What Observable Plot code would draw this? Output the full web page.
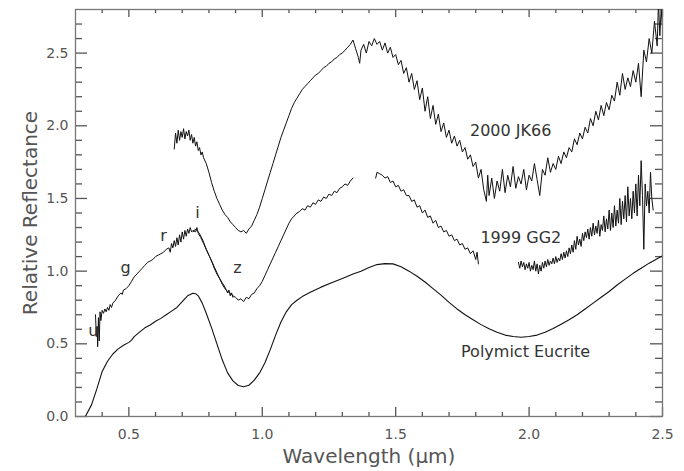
<!DOCTYPE html>
<html>
<head>
<meta charset="utf-8">
<script src="https://cdn.jsdelivr.net/npm/d3@7"></script>
<script src="https://cdn.jsdelivr.net/npm/@observablehq/plot@0.6"></script>
<style>
  html, body { margin: 0; padding: 0; background: #fff; }
</style>
</head>
<body>
<div id="chart"></div>
<script>
// ---- Data ----
const xMajorTicks = [0.5, 1.0, 1.5, 2.0, 2.5];
const xMinorTicks = [0.4, 0.6, 0.7, 0.8, 0.9, 1.1, 1.2, 1.3, 1.4, 1.6, 1.7, 1.8, 1.9, 2.1, 2.2, 2.3, 2.4];
const yMajorTicks = [0.0, 0.5, 1.0, 1.5, 2.0, 2.5];
const yMinorTicks = [0.1, 0.2, 0.3, 0.4, 0.6, 0.7, 0.8, 0.9, 1.1, 1.2, 1.3, 1.4, 1.6, 1.7, 1.8, 1.9, 2.1, 2.2, 2.3, 2.4, 2.6, 2.7];

// Polymict Eucrite (smooth laboratory spectrum)
const eucrite = [
  [0.337,0.00],[0.36,0.08],[0.38,0.19],[0.40,0.31],[0.42,0.38],[0.44,0.43],[0.46,0.465],[0.48,0.49],
  [0.50,0.51],[0.51,0.525],[0.52,0.55],[0.54,0.58],[0.56,0.61],[0.58,0.63],[0.60,0.655],[0.62,0.675],
  [0.64,0.70],[0.66,0.725],[0.68,0.75],[0.70,0.79],[0.72,0.83],[0.74,0.848],[0.75,0.845],[0.76,0.83],
  [0.775,0.78],[0.79,0.71],[0.81,0.61],[0.83,0.50],[0.85,0.39],[0.87,0.30],[0.89,0.245],[0.91,0.213],
  [0.93,0.205],[0.95,0.215],[0.97,0.25],[0.99,0.30],[1.01,0.37],[1.03,0.46],[1.05,0.56],[1.07,0.65],
  [1.09,0.72],[1.11,0.77],[1.13,0.80],[1.15,0.825],[1.18,0.855],[1.22,0.89],[1.26,0.92],[1.30,0.95],
  [1.34,0.98],[1.37,1.00],[1.40,1.025],[1.43,1.045],[1.46,1.052],[1.49,1.05],[1.52,1.03],[1.55,1.00],
  [1.58,0.965],[1.61,0.925],[1.64,0.88],[1.67,0.835],[1.70,0.785],[1.73,0.74],[1.76,0.70],[1.79,0.665],
  [1.82,0.632],[1.85,0.603],[1.88,0.58],[1.91,0.56],[1.94,0.55],[1.97,0.545],[2.00,0.55],[2.03,0.56],
  [2.06,0.58],[2.09,0.605],[2.12,0.635],[2.15,0.665],[2.18,0.70],[2.21,0.74],[2.24,0.78],[2.27,0.82],
  [2.30,0.86],[2.33,0.905],[2.36,0.945],[2.39,0.985],[2.42,1.02],[2.45,1.055],[2.48,1.085],[2.50,1.105]
];

// 2000 JK66 (noisy spectrum)
const jk66 = [
  [0.670,1.84],[0.675,1.95],[0.680,1.88],[0.685,1.97],[0.690,1.90],[0.695,1.96],[0.700,1.92],[0.705,1.98],
  [0.710,1.91],[0.715,1.96],[0.720,1.93],[0.725,1.97],[0.730,1.90],[0.735,1.94],[0.740,1.88],[0.745,1.92],
  [0.750,1.86],[0.755,1.89],[0.760,1.83],[0.765,1.85],[0.770,1.80],[0.775,1.82],[0.780,1.78],[0.790,1.74],
  [0.800,1.68],[0.810,1.61],[0.820,1.55],[0.830,1.50],[0.840,1.46],[0.850,1.42],[0.860,1.39],[0.870,1.37],
  [0.880,1.34],[0.890,1.32],[0.900,1.30],[0.910,1.28],[0.920,1.27],[0.930,1.28],[0.940,1.26],[0.950,1.29],
  [0.960,1.31],[0.970,1.35],[0.980,1.39],[0.990,1.44],[1.000,1.50],[1.010,1.56],[1.020,1.62],[1.030,1.68],
  [1.040,1.74],[1.050,1.80],[1.060,1.86],[1.070,1.92],[1.080,1.97],[1.090,2.02],[1.100,2.07],[1.110,2.12],
  [1.120,2.16],[1.130,2.19],[1.140,2.22],[1.150,2.25],[1.160,2.27],[1.170,2.29],[1.180,2.31],[1.190,2.33],
  [1.200,2.35],[1.210,2.36],[1.220,2.38],[1.230,2.40],[1.240,2.41],[1.250,2.43],[1.260,2.44],[1.270,2.46],
  [1.280,2.47],[1.290,2.49],[1.300,2.50],[1.310,2.52],[1.320,2.54],[1.330,2.56],[1.340,2.59],[1.350,2.53],
  [1.360,2.47],[1.365,2.43],[1.370,2.52],[1.380,2.56],[1.390,2.50],[1.400,2.58],[1.410,2.55],[1.420,2.60],
  [1.430,2.56],[1.440,2.58],[1.450,2.52],[1.460,2.57],[1.470,2.50],[1.480,2.54],[1.490,2.47],[1.500,2.49],
  [1.510,2.42],[1.520,2.45],[1.530,2.36],[1.540,2.40],[1.550,2.30],[1.560,2.36],[1.570,2.25],[1.580,2.31],
  [1.590,2.18],[1.600,2.26],[1.610,2.10],[1.620,2.20],[1.630,2.05],[1.640,2.14],[1.650,2.01],[1.660,2.08],
  [1.670,1.96],[1.680,2.02],[1.690,1.92],[1.700,1.97],[1.710,1.88],[1.720,1.93],[1.730,1.86],[1.740,1.90],
  [1.750,1.82],[1.760,1.85],[1.770,1.77],[1.780,1.80],[1.790,1.72],[1.800,1.75],[1.810,1.64],[1.820,1.70],
  [1.830,1.56],[1.840,1.48],[1.845,1.66],[1.850,1.52],[1.860,1.64],[1.870,1.50],[1.880,1.62],[1.890,1.55],
  [1.900,1.70],[1.910,1.54],[1.920,1.66],[1.930,1.58],[1.940,1.72],[1.950,1.57],[1.960,1.65],[1.970,1.60],
  [1.980,1.70],[1.990,1.56],[2.000,1.66],[2.010,1.62],[2.020,1.74],[2.030,1.63],[2.040,1.52],[2.050,1.70],
  [2.060,1.66],[2.070,1.78],[2.080,1.68],[2.090,1.74],[2.100,1.70],[2.110,1.79],[2.120,1.74],[2.130,1.82],
  [2.140,1.78],[2.150,1.85],[2.160,1.82],[2.170,1.91],[2.180,1.87],[2.190,1.95],[2.200,1.91],[2.210,1.99],
  [2.220,1.95],[2.230,2.05],[2.240,2.00],[2.250,2.10],[2.260,2.04],[2.270,2.14],[2.280,2.07],[2.290,2.16],
  [2.300,2.11],[2.310,2.21],[2.320,2.17],[2.330,2.30],[2.340,2.21],[2.350,2.36],[2.360,2.25],[2.370,2.33],
  [2.380,2.27],[2.390,2.38],[2.400,2.30],[2.410,2.43],[2.420,2.20],[2.430,2.52],[2.440,2.44],[2.450,2.60],
  [2.460,2.50],[2.470,2.72],[2.480,2.55],[2.485,2.85],[2.490,2.62],[2.495,2.80],[2.500,2.68]
];

// 1999 GG2, visible spectrum (u g r i z region)
const gg2Visible = [
  [0.375,0.70],[0.378,0.55],[0.381,0.62],[0.383,0.48],[0.386,0.68],[0.389,0.52],[0.392,0.72],[0.395,0.66],
  [0.400,0.73],[0.405,0.71],[0.410,0.74],[0.415,0.72],[0.420,0.75],[0.425,0.73],[0.430,0.77],[0.435,0.75],
  [0.440,0.78],[0.450,0.80],[0.460,0.83],[0.470,0.85],[0.475,0.84],[0.480,0.87],[0.490,0.88],[0.500,0.90],
  [0.510,0.93],[0.520,0.96],[0.530,0.98],[0.540,1.00],[0.550,1.02],[0.560,1.04],[0.570,1.06],[0.580,1.07],
  [0.590,1.08],[0.600,1.10],[0.610,1.11],[0.620,1.12],[0.630,1.13],[0.640,1.15],[0.650,1.16],[0.655,1.13],
  [0.660,1.19],[0.665,1.16],[0.670,1.21],[0.675,1.17],[0.680,1.23],[0.685,1.18],[0.690,1.25],[0.695,1.20],
  [0.700,1.27],[0.705,1.22],[0.710,1.28],[0.715,1.24],[0.720,1.29],[0.725,1.26],[0.730,1.30],[0.735,1.27],
  [0.740,1.28],[0.750,1.27],[0.755,1.30],[0.760,1.26],[0.770,1.23],[0.780,1.19],[0.790,1.15],[0.800,1.11],
  [0.810,1.07],[0.820,1.03],[0.830,0.99],[0.840,0.95],[0.850,0.92],[0.860,0.89],[0.870,0.85],[0.875,0.87],
  [0.880,0.83],[0.885,0.85],[0.890,0.82]
];

// 1999 GG2, near-infrared pieces
const gg2Nir1 = [
  [0.740,1.27],[0.750,1.29],[0.760,1.27],[0.770,1.24],[0.780,1.20],[0.790,1.15],[0.800,1.11],[0.810,1.07],
  [0.820,1.02],[0.830,0.98],[0.840,0.95],[0.850,0.91],[0.860,0.88],[0.870,0.86],[0.880,0.85],[0.890,0.83],
  [0.900,0.82],[0.910,0.80],[0.920,0.81],[0.930,0.79],[0.940,0.82],[0.950,0.81],[0.960,0.84],[0.970,0.85],
  [0.980,0.88],[0.990,0.90],[1.000,0.93],[1.010,0.97],[1.020,1.01],[1.030,1.05],[1.040,1.09],[1.050,1.13],
  [1.060,1.17],[1.070,1.21],[1.080,1.25],[1.090,1.29],[1.100,1.33],[1.110,1.36],[1.120,1.38],[1.130,1.40],
  [1.140,1.41],[1.150,1.43],[1.160,1.42],[1.170,1.45],[1.180,1.44],[1.190,1.47],[1.200,1.46],[1.210,1.49],
  [1.220,1.48],[1.230,1.51],[1.240,1.50],[1.250,1.53],[1.260,1.52],[1.270,1.55],[1.280,1.54],[1.290,1.57],
  [1.300,1.58],[1.310,1.60],[1.320,1.59],[1.330,1.62],[1.340,1.64]
];
const gg2Nir2 = [
  [1.425,1.64],[1.430,1.68],[1.440,1.67],[1.450,1.66],[1.460,1.64],[1.470,1.65],[1.480,1.61],[1.490,1.62],
  [1.500,1.58],[1.510,1.59],[1.520,1.55],[1.530,1.56],[1.540,1.52],[1.550,1.52],[1.560,1.48],[1.570,1.49],
  [1.580,1.44],[1.590,1.45],[1.600,1.40],[1.610,1.42],[1.620,1.37],[1.630,1.38],[1.640,1.33],[1.650,1.35],
  [1.660,1.30],[1.670,1.31],[1.680,1.27],[1.690,1.28],[1.700,1.24],[1.710,1.25],[1.720,1.21],[1.730,1.22],
  [1.740,1.18],[1.750,1.19],[1.760,1.15],[1.770,1.16],[1.780,1.12],[1.790,1.14],[1.800,1.08],[1.805,1.13],
  [1.810,1.05]
];
const gg2Nir3 = [
  [1.960,1.06],[1.965,1.02],[1.970,1.07],[1.975,1.03],[1.980,1.06],[1.985,1.01],[1.990,1.05],[1.995,1.02],
  [2.000,1.06],[2.005,1.00],[2.010,1.04],[2.015,1.01],[2.020,1.07],[2.025,1.00],[2.030,1.05],[2.035,0.98],
  [2.040,1.04],[2.045,1.00],[2.050,1.06],[2.055,1.02],[2.060,1.07],[2.065,1.03],[2.070,1.08],[2.075,1.04],
  [2.080,1.07],[2.085,1.05],[2.090,1.09],[2.095,1.05],[2.100,1.10],[2.105,1.06],[2.110,1.09],[2.115,1.07],
  [2.120,1.12],[2.125,1.08],[2.130,1.13],[2.135,1.09],[2.140,1.14],[2.145,1.10],[2.150,1.16],[2.155,1.12],
  [2.160,1.18],[2.165,1.13],[2.170,1.21],[2.175,1.15],[2.180,1.24],[2.185,1.18],[2.190,1.22],[2.195,1.17],
  [2.200,1.26],[2.205,1.21],[2.210,1.27],[2.215,1.23],[2.220,1.29],[2.225,1.22],[2.230,1.30],[2.235,1.24],
  [2.240,1.33],[2.245,1.25],[2.250,1.31],[2.255,1.26],[2.260,1.35],[2.265,1.24],[2.270,1.32],[2.275,1.28],
  [2.280,1.38],[2.285,1.27],[2.290,1.36],[2.295,1.29],[2.300,1.42],[2.305,1.28],[2.310,1.40],[2.315,1.30],
  [2.320,1.45],[2.325,1.31],[2.330,1.42],[2.335,1.33],[2.340,1.50],[2.345,1.32],[2.350,1.48],[2.355,1.36],
  [2.360,1.52],[2.365,1.34],[2.370,1.58],[2.375,1.38],[2.380,1.50],[2.385,1.36],[2.390,1.55],[2.395,1.40],
  [2.400,1.60],[2.405,1.38],[2.410,1.66],[2.415,1.45],[2.420,1.76],[2.425,1.52],[2.430,1.15],[2.435,1.60],
  [2.440,1.45],[2.445,1.55],[2.450,1.40],[2.455,1.68],[2.460,1.50],[2.465,1.42]
];

// Text annotations
const curveLabels = [
  {text: "2000 JK66", x: 1.931, y: 1.963},
  {text: "1999 GG2", x: 1.969, y: 1.232},
  {text: "Polymict Eucrite", x: 1.987, y: 0.446}
];
const filterLabels = [
  {text: "u", x: 0.367, y: 0.59},
  {text: "g", x: 0.4875, y: 1.02},
  {text: "r", x: 0.63, y: 1.24},
  {text: "i", x: 0.757, y: 1.40},
  {text: "z", x: 0.907, y: 1.02}
];

// ---- Chart ----
const W = 684, H = 471;
const mL = 75, mR = 22, mT = 9, mB = 55;
const pw = W - mL - mR, ph = H - mT - mB;
const ink = "#111";
const axisGray = "#555";
const xDom = [0.3, 2.5], yDom = [0, 2.8];
// pixel lengths converted to data units for the inward tick marks
const pxX = (xDom[1] - xDom[0]) / pw, pxY = (yDom[1] - yDom[0]) / ph;
const X = d => d[0], Y = d => d[1];
const tk = {stroke: axisGray, strokeWidth: 1.3};

const chart = Plot.plot({
  width: W,
  height: H,
  marginLeft: mL, marginRight: mR, marginTop: mT, marginBottom: mB,
  style: {fontFamily: "'DejaVu Sans', sans-serif", fontSize: "14px", color: "#555", background: "#fff"},
  x: {domain: xDom},
  y: {domain: yDom},
  marks: [
    Plot.axisX({ticks: xMajorTicks, tickSize: 0, tickPadding: 13, tickFormat: d3.format(".1f"), label: null}),
    Plot.axisY({ticks: yMajorTicks, tickSize: 0, tickPadding: 7, tickFormat: d3.format(".1f"), label: null}),
    // inward tick marks: bottom / top
    Plot.ruleX(xMinorTicks, {x: d => d, y1: yDom[0], y2: yDom[0] + 4 * pxY, ...tk}),
    Plot.ruleX(xMajorTicks, {x: d => d, y1: yDom[0], y2: yDom[0] + 9 * pxY, ...tk}),
    Plot.ruleX(xMinorTicks, {x: d => d, y1: yDom[1], y2: yDom[1] - 4 * pxY, ...tk}),
    Plot.ruleX(xMajorTicks, {x: d => d, y1: yDom[1], y2: yDom[1] - 8 * pxY, ...tk}),
    // inward tick marks: left / right
    Plot.ruleY(yMinorTicks, {y: d => d, x1: xDom[0], x2: xDom[0] + 7 * pxX, ...tk}),
    Plot.ruleY(yMajorTicks, {y: d => d, x1: xDom[0], x2: xDom[0] + 12 * pxX, ...tk}),
    Plot.ruleY(yMinorTicks, {y: d => d, x1: xDom[1], x2: xDom[1] - 7 * pxX, ...tk}),
    Plot.ruleY(yMajorTicks, {y: d => d, x1: xDom[1], x2: xDom[1] - 12 * pxX, ...tk}),
    Plot.frame({stroke: "#777", strokeWidth: 1.3}),
    // spectra
    Plot.line(eucrite, {x: X, y: Y, stroke: ink, strokeWidth: 1.1, clip: true}),
    Plot.line(jk66, {x: X, y: Y, stroke: ink, strokeWidth: 1, clip: true}),
    Plot.line(gg2Visible, {x: X, y: Y, stroke: ink, strokeWidth: 1, clip: true}),
    Plot.line(gg2Nir1, {x: X, y: Y, stroke: ink, strokeWidth: 1, clip: true}),
    Plot.line(gg2Nir2, {x: X, y: Y, stroke: ink, strokeWidth: 1, clip: true}),
    Plot.line(gg2Nir3, {x: X, y: Y, stroke: ink, strokeWidth: 1, clip: true}),
    // annotations
    Plot.text(curveLabels, {x: "x", y: "y", text: "text", fontSize: 16, fill: "#333"}),
    Plot.text(filterLabels, {x: "x", y: "y", text: "text", fontSize: 16, fill: "#333"}),
    // axis titles
    Plot.text(["Wavelength (μm)"], {frameAnchor: "bottom", textAnchor: "middle", lineAnchor: "middle", dy: 40, fontSize: 20, fill: "#555"}),
    Plot.text(["Relative Reflectance"], {frameAnchor: "left", textAnchor: "middle", lineAnchor: "middle", dx: -45, rotate: -90, fontSize: 20, fill: "#555"})
  ]
});

document.getElementById("chart").appendChild(chart);
</script>
</body>
</html>
